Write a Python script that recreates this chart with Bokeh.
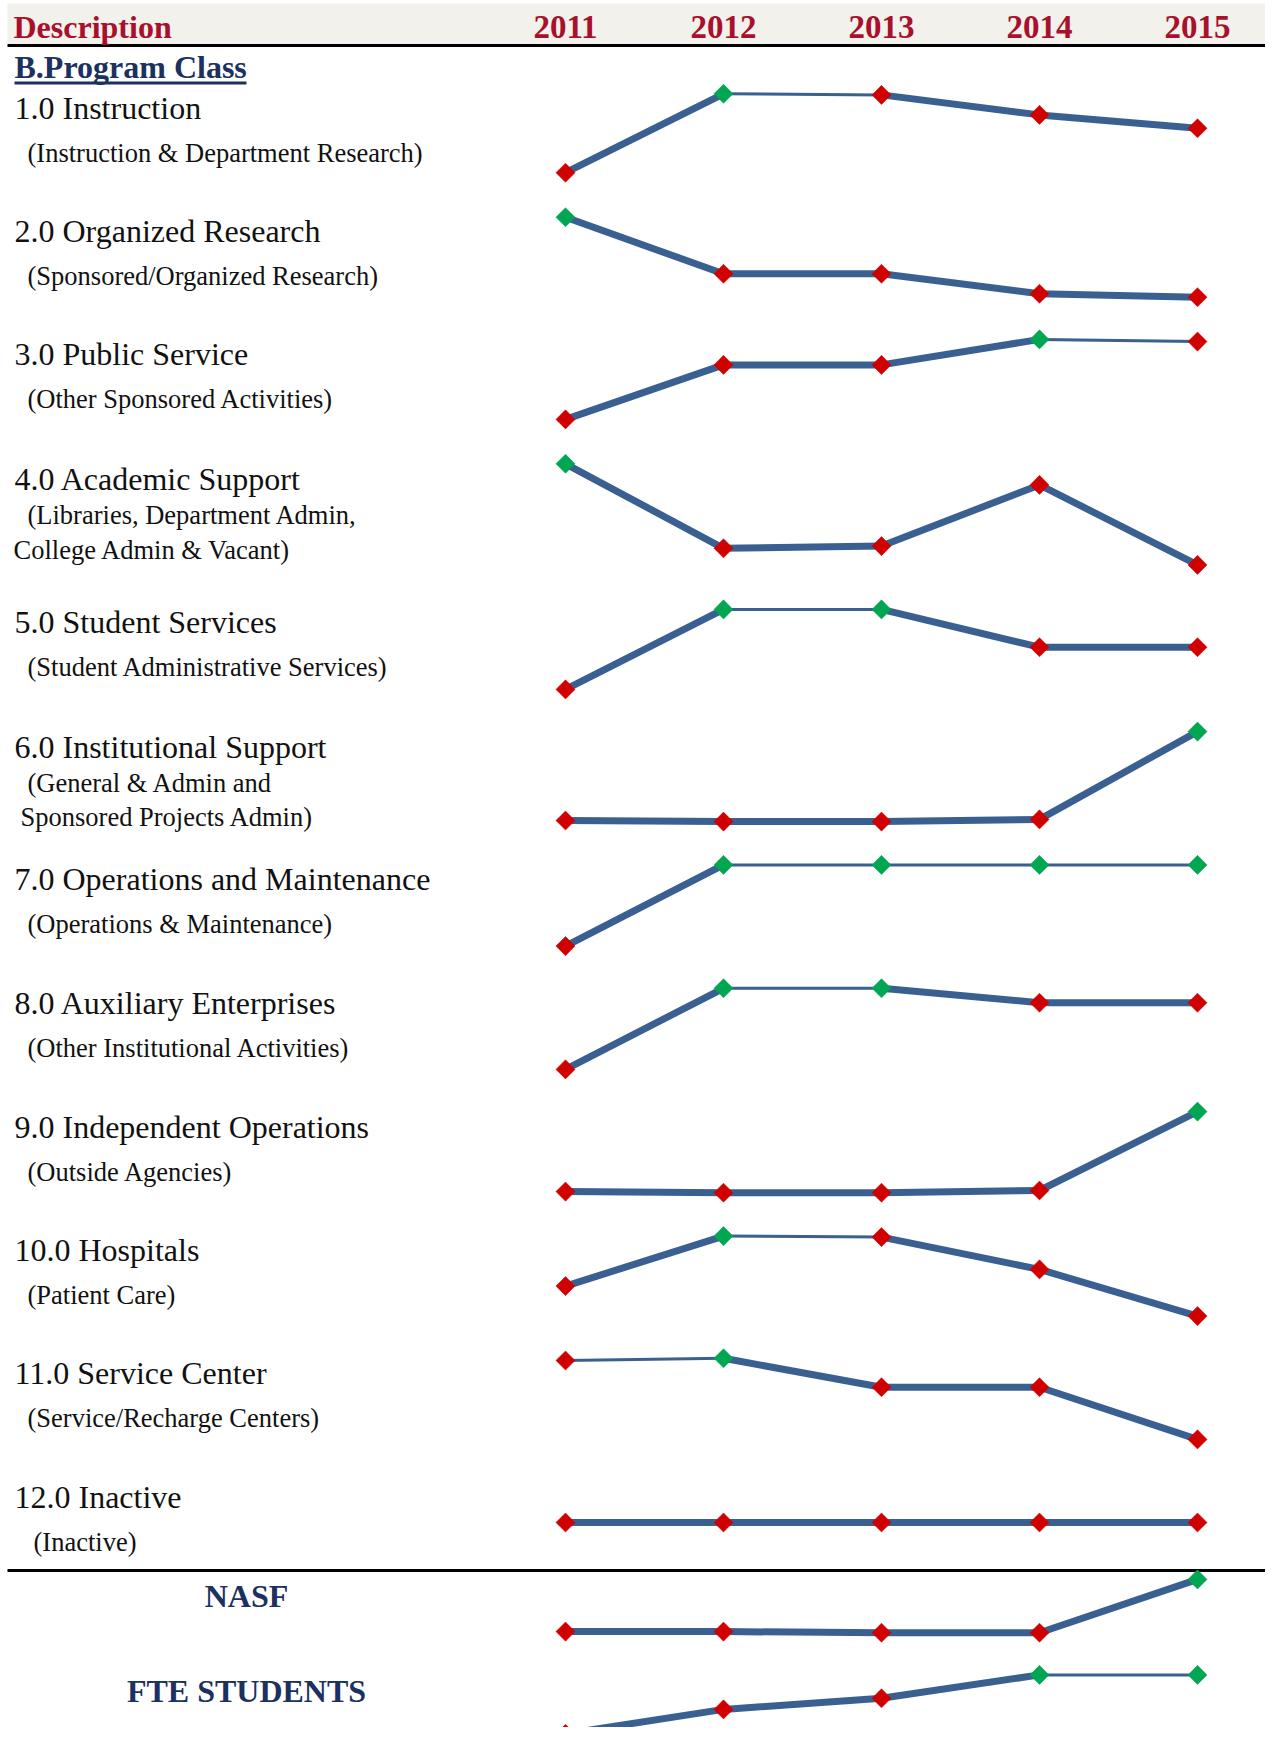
import math
from bokeh.plotting import figure
from bokeh.models import Range1d, ColumnDataSource
from bokeh.core.properties import value
from bokeh.embed import file_html
from bokeh.resources import INLINE

# ---------------- data ----------------
YEARS = [2011, 2012, 2013, 2014, 2015]
YEAR_LABELS = ["2011", "2012", "2013", "2014", "2015"]
HEADER_LABEL = "Description"
SECTION_LABEL = "B.Program Class"

ROW_TITLES = [
    "1.0 Instruction",
    "2.0 Organized Research",
    "3.0 Public Service",
    "4.0 Academic Support",
    "5.0 Student Services",
    "6.0 Institutional Support",
    "7.0 Operations and Maintenance",
    "8.0 Auxiliary Enterprises",
    "9.0 Independent Operations",
    "10.0 Hospitals",
    "11.0 Service Center",
    "12.0 Inactive",
]
ROW_NOTES = [
    ["(Instruction & Department Research)"],
    ["(Sponsored/Organized Research)"],
    ["(Other Sponsored Activities)"],
    ["(Libraries, Department Admin,", "College Admin & Vacant)"],
    ["(Student Administrative Services)"],
    ["(General & Admin and", "Sponsored Projects Admin)"],
    ["(Operations & Maintenance)"],
    ["(Other Institutional Activities)"],
    ["(Outside Agencies)"],
    ["(Patient Care)"],
    ["(Service/Recharge Centers)"],
    ["(Inactive)"],
]

# relative index values per row
INSTRUCTION = [5.8, 84.7, 83.6, 63.6, 50.2]
ORGANIZED_RESEARCH = [84.3, 27.7, 27.7, 7.7, 4.3]
PUBLIC_SERVICE = [5.1, 59.6, 59.6, 85.1, 82.9]
ACADEMIC_SUPPORT = [106.7, 22.2, 24.4, 85.6, 5.6]
STUDENT_SERVICES = [3.1, 83.1, 83.1, 45.3, 45.3]
INSTITUTIONAL_SUPPORT = [3.0, 1.9, 1.9, 4.1, 91.9]
OPERATIONS_MAINT = [3.4, 84.6, 84.6, 84.6, 84.6]
AUXILIARY = [4.1, 85.2, 85.2, 70.8, 70.8]
INDEPENDENT_OPS = [3.9, 2.8, 2.8, 5.0, 83.9]
HOSPITALS = [34.4, 84.4, 83.4, 51.1, 4.4]
SERVICE_CENTER = [83.0, 85.2, 56.3, 56.3, 4.1]
INACTIVE = [0.0, 0.0, 0.0, 0.0, 0.0]

SUMMARY_TITLES = ["NASF", "FTE STUDENTS"]
NASF = [4.9, 4.9, 3.8, 3.8, 57.1]
FTE_STUDENTS = [4.7, 29.1, 40.2, 63.6, 63.6]

ROW_VALUES = [INSTRUCTION, ORGANIZED_RESEARCH, PUBLIC_SERVICE, ACADEMIC_SUPPORT,
              STUDENT_SERVICES, INSTITUTIONAL_SUPPORT, OPERATIONS_MAINT, AUXILIARY,
              INDEPENDENT_OPS, HOSPITALS, SERVICE_CENTER, INACTIVE]
SUMMARY_VALUES = [NASF, FTE_STUDENTS]

# ---------------- layout / style ----------------
W, H = 1265, 1727
SERIF = value("Liberation Serif")
RED_TXT = "#A8102C"
NAVY = "#1B3160"
LINE_C = "#3A6091"
MK_RED = "#D10000"
MK_GREEN = "#00A651"
TXT = "#111111"

YEAR_X0_PX, YEAR_STEP_PX = 565, 158

TITLE_Y = [117.8, 241, 364.4, 488.9, 632.2, 756.7, 888.9, 1013.3, 1136.7, 1260, 1383.3, 1506.7]
BAND_BOTTOM = [178, 301, 424, 570, 692, 823, 949, 1073, 1195, 1320, 1443, 1522]
SUM_BAND_BOTTOM = [1636, 1738]
SUM_TITLE_Y = [1605.6, 1701]

BIG, SMALL, YEAR_SZ = 32, 26.5, 33


def by(y, size):
    # baseline correction for text placement
    return y - 0.33 * size


p = figure(width=W, height=H, output_backend="svg", toolbar_location=None,
           x_range=Range1d(0, W), y_range=Range1d(H, 0),
           x_axis_type=None, y_axis_type=None, min_border=0)
p.grid.visible = False
p.outline_line_color = None
p.background_fill_color = "white"
p.border_fill_color = "white"

# year scale
yr_start = YEARS[0] + (0 - YEAR_X0_PX) / YEAR_STEP_PX
yr_end = YEARS[0] + (W - YEAR_X0_PX) / YEAR_STEP_PX
p.extra_x_ranges = {"yr": Range1d(yr_start, yr_end)}

# header band
p.quad(left=7, right=W, top=3, bottom=44, fill_color="#F2F1EC", line_color=None)
p.segment(x0=7, y0=45, x1=W, y1=45, line_color="black", line_width=3)
p.segment(x0=7, y0=1570, x1=W, y1=1570, line_color="black", line_width=3)

p.text(x=[13], y=[by(37.5, BIG)], text=[HEADER_LABEL], text_font=SERIF,
       text_font_size=f"{BIG}px", text_font_style="bold", text_color=RED_TXT,
       text_baseline="alphabetic")
p.text(x=YEARS, y=[by(37.5, YEAR_SZ)] * len(YEARS), text=YEAR_LABELS, x_range_name="yr",
       text_font=SERIF, text_font_size=f"{YEAR_SZ}px", text_font_style="bold",
       text_color=RED_TXT, text_align="center", text_baseline="alphabetic")

# section label with underline
p.text(x=[14], y=[by(77.5, BIG)], text=[SECTION_LABEL], text_font=SERIF,
       text_font_size=f"{BIG}px", text_font_style="bold", text_color=NAVY,
       text_baseline="alphabetic")
p.segment(x0=14, y0=82.5, x1=246, y1=82.5, line_color=NAVY, line_width=2.8)

# row labels
for i, (title, notes) in enumerate(zip(ROW_TITLES, ROW_NOTES)):
    ty = TITLE_Y[i]
    p.text(x=[14], y=[by(ty, BIG)], text=[title], text_font=SERIF,
           text_font_size=f"{BIG}px", text_color=TXT, text_baseline="alphabetic")
    if len(notes) == 1:
        nx = 33 if i == 11 else 27
        p.text(x=[nx], y=[by(ty + 43.3, SMALL)], text=[notes[0]], text_font=SERIF,
               text_font_size=f"{SMALL}px", text_color=TXT, text_baseline="alphabetic")
    else:
        second_x = 13 if i == 3 else 20
        p.text(x=[27, second_x], y=[by(ty + 34.8, SMALL), by(ty + 69, SMALL)], text=notes,
               text_font=SERIF, text_font_size=f"{SMALL}px", text_color=TXT,
               text_baseline="alphabetic")

for title, ty in zip(SUMMARY_TITLES, SUM_TITLE_Y):
    p.text(x=[246], y=[by(ty, BIG)], text=[title], text_font=SERIF,
           text_font_size=f"{BIG}px", text_font_style="bold", text_color=NAVY,
           text_align="center", text_baseline="alphabetic")


def draw_spark(vals, bottom, name):
    p.extra_y_ranges[name] = Range1d(bottom - H, bottom)
    vmax, vmin = max(vals), min(vals)
    varies = vmax > vmin
    near = [varies and v >= vmax - 2.5 for v in vals]
    seg = ColumnDataSource(dict(
        x0=YEARS[:-1], x1=YEARS[1:], y0=vals[:-1], y1=vals[1:],
        w=[3 if (near[k] and near[k + 1]) else 7 for k in range(len(vals) - 1)]))
    p.segment(x0="x0", y0="y0", x1="x1", y1="y1", line_width="w", source=seg,
              line_color=LINE_C, line_cap="round", x_range_name="yr", y_range_name=name)
    mk = ColumnDataSource(dict(
        x=YEARS, y=vals,
        c=[MK_GREEN if (varies and v == vmax) else MK_RED for v in vals]))
    p.scatter(x="x", y="y", source=mk, marker="square", angle=math.pi / 4, size=13.5,
              fill_color="c", line_color="c", line_width=0.5,
              x_range_name="yr", y_range_name=name)


for i, vals in enumerate(ROW_VALUES):
    draw_spark(vals, BAND_BOTTOM[i], f"row{i}")
for j, vals in enumerate(SUMMARY_VALUES):
    draw_spark(vals, SUM_BAND_BOTTOM[j], f"sum{j}")

open("out.html", "w").write(file_html(p, INLINE))
